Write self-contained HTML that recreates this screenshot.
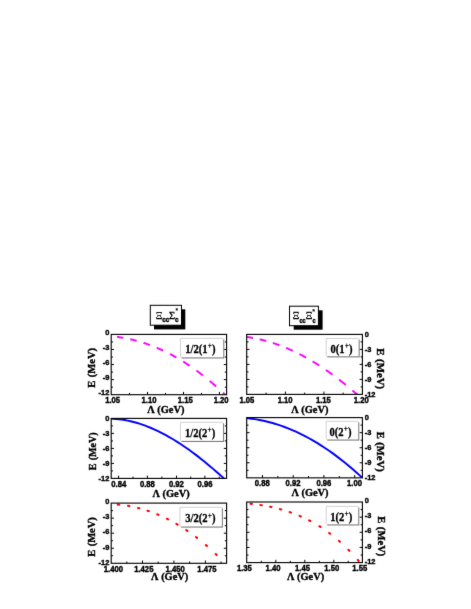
<!DOCTYPE html>
<html><head><meta charset="utf-8"><title>chart</title>
<style>html,body{margin:0;padding:0;background:#fff;}svg{display:block;position:absolute;left:0;top:0;will-change:transform}text{fill:#000}</style></head>
<body>
<svg width="471" height="609" viewBox="0 0 471 609">
<rect width="471" height="609" fill="#fff"/>
<defs><filter id="bl" x="0" y="0" width="100%" height="100%" filterUnits="userSpaceOnUse" color-interpolation-filters="sRGB"><feConvolveMatrix order="3" kernelMatrix="0.0064 0.0672 0.0064 0.0672 0.7056 0.0672 0.0064 0.0672 0.0064" divisor="1" edgeMode="duplicate" preserveAlpha="false"/></filter></defs>
<g filter="url(#bl)">
<rect width="471" height="609" fill="#fff"/>
<clipPath id="cTL"><rect x="111.2" y="334.4" width="115.39999999999999" height="60.30000000000001"/></clipPath>
<g clip-path="url(#cTL)"><path d="M117.00,336.88 L118.28,337.05 L119.56,337.23 L120.84,337.42 L122.12,337.63 L123.40,337.84 M130.25,339.21 L131.53,339.50 L132.81,339.81 L134.09,340.13 L135.37,340.45 L136.65,340.80 M143.50,342.83 L144.78,343.25 L146.06,343.68 L147.34,344.12 L148.62,344.57 L149.90,345.04 M156.75,347.75 L158.03,348.30 L159.31,348.85 L160.59,349.42 L161.87,350.01 L163.15,350.60 M170.00,354.00 L171.28,354.68 L172.56,355.36 L173.84,356.06 L175.12,356.78 L176.40,357.50 M183.25,361.60 L184.53,362.41 L185.81,363.23 L187.09,364.06 L188.37,364.91 L189.65,365.77 M196.50,370.58 L197.78,371.53 L199.06,372.48 L200.34,373.45 L201.62,374.43 L202.90,375.42 M209.75,380.96 L211.03,382.04 L212.31,383.13 L213.59,384.24 L214.87,385.35 L216.15,386.49 M223.00,392.77 L224.28,393.98 L225.56,395.21 L226.84,396.46 L228.12,397.71 L229.40,398.99" stroke="#ff00ff" stroke-width="1.95" fill="none"/></g>
<rect x="111.2" y="334.4" width="115.40" height="60.30" fill="none" stroke="#000" stroke-width="1.12"/>
<path d="M147.50,394.7 v-2.8 M183.50,394.7 v-2.8 M219.40,394.7 v-2.8 M129.50,394.7 v-1.8 M165.50,394.7 v-1.8 M201.50,394.7 v-1.8 M111.2,341.94 h1.8 M226.6,341.94 h-1.8 M111.2,349.47 h2.8 M226.6,349.47 h-2.8 M111.2,357.01 h1.8 M226.6,357.01 h-1.8 M111.2,364.55 h2.8 M226.6,364.55 h-2.8 M111.2,372.09 h1.8 M226.6,372.09 h-1.8 M111.2,379.62 h2.8 M226.6,379.62 h-2.8 M111.2,387.16 h1.8 M226.6,387.16 h-1.8" stroke="#000" stroke-width="1.0" fill="none"/>
<text transform="translate(112.65,403.10) scale(0.935,1)" text-anchor="middle" style="font-family:'Liberation Sans',sans-serif;font-size:8.25px;font-weight:bold;stroke:#000;stroke-width:0.4px;">1.05</text>
<text transform="translate(149.05,403.10) scale(0.935,1)" text-anchor="middle" style="font-family:'Liberation Sans',sans-serif;font-size:8.25px;font-weight:bold;stroke:#000;stroke-width:0.4px;">1.10</text>
<text transform="translate(185.30,403.10) scale(0.935,1)" text-anchor="middle" style="font-family:'Liberation Sans',sans-serif;font-size:8.25px;font-weight:bold;stroke:#000;stroke-width:0.4px;">1.15</text>
<text transform="translate(221.15,403.10) scale(0.935,1)" text-anchor="middle" style="font-family:'Liberation Sans',sans-serif;font-size:8.25px;font-weight:bold;stroke:#000;stroke-width:0.4px;">1.20</text>
<text transform="translate(165.80,412.70) scale(0.944,1)" text-anchor="middle" style="font-family:'Liberation Serif',serif;font-size:11px;font-weight:bold;stroke:#000;stroke-width:0.4px;">Λ (GeV)</text>
<text transform="translate(109.30,334.85) scale(0.92,1)" text-anchor="end" style="font-family:'Liberation Sans',sans-serif;font-size:8.1px;font-weight:bold;stroke:#000;stroke-width:0.4px;">0</text>
<text transform="translate(109.30,349.92) scale(0.92,1)" text-anchor="end" style="font-family:'Liberation Sans',sans-serif;font-size:8.1px;font-weight:bold;stroke:#000;stroke-width:0.4px;">-3</text>
<text transform="translate(109.30,365.00) scale(0.92,1)" text-anchor="end" style="font-family:'Liberation Sans',sans-serif;font-size:8.1px;font-weight:bold;stroke:#000;stroke-width:0.4px;">-6</text>
<text transform="translate(109.30,380.07) scale(0.92,1)" text-anchor="end" style="font-family:'Liberation Sans',sans-serif;font-size:8.1px;font-weight:bold;stroke:#000;stroke-width:0.4px;">-9</text>
<text transform="translate(109.30,395.15) scale(0.92,1)" text-anchor="end" style="font-family:'Liberation Sans',sans-serif;font-size:8.1px;font-weight:bold;stroke:#000;stroke-width:0.4px;">-12</text>
<text transform="translate(94.90,367.85) rotate(-90) scale(0.94,1)" text-anchor="middle" style="font-family:'Liberation Serif',serif;font-size:11.2px;font-weight:bold;stroke:#000;stroke-width:0.4px;word-spacing:0.9px;">E (MeV)</text>
<rect x="181.50" y="339.30" width="42.80" height="19.20" fill="#7c7c7c"/>
<rect x="180.50" y="338.30" width="42.75" height="19.10" fill="#fff"/>
<path d="M180.50,357.40 V338.30 H223.25" fill="none" stroke="#c6c6c6" stroke-width="0.8"/>
<text transform="translate(185.20,352.60) scale(0.885,1)" style="font-family:'Liberation Serif',serif;font-size:12px;font-weight:bold;stroke:#000;stroke-width:0.3px;">1/2(1<tspan dy="-4.7" dx="0.1" style="font-size:8.40px;font-weight:normal;stroke-width:0.3px">+</tspan><tspan dy="4.7" dx="0.1">)</tspan></text>
<clipPath id="cTR"><rect x="246.7" y="334.4" width="115.69999999999999" height="60.0"/></clipPath>
<g clip-path="url(#cTR)"><path d="M246.40,336.93 L247.72,337.10 L249.04,337.29 L250.36,337.50 L251.68,337.71 L253.00,337.94 M259.65,339.30 L260.97,339.61 L262.29,339.93 L263.61,340.26 L264.93,340.61 L266.25,340.97 M272.90,342.97 L274.22,343.40 L275.54,343.85 L276.86,344.31 L278.18,344.78 L279.50,345.27 M286.15,347.90 L287.47,348.46 L288.79,349.03 L290.11,349.62 L291.43,350.21 L292.75,350.82 M299.40,354.07 L300.72,354.75 L302.04,355.44 L303.36,356.15 L304.68,356.86 L306.00,357.59 M312.65,361.43 L313.97,362.23 L315.29,363.04 L316.61,363.86 L317.93,364.70 L319.25,365.54 M325.90,369.97 L327.22,370.88 L328.54,371.81 L329.86,372.74 L331.18,373.69 L332.50,374.65 M339.15,379.64 L340.47,380.67 L341.79,381.70 L343.11,382.75 L344.43,383.81 L345.75,384.87 M352.40,390.42 L353.72,391.55 L355.04,392.69 L356.36,393.85 L357.68,395.01 L359.00,396.19" stroke="#ff00ff" stroke-width="1.95" fill="none"/></g>
<rect x="246.7" y="334.4" width="115.70" height="60.00" fill="none" stroke="#000" stroke-width="1.12"/>
<path d="M285.40,394.4 v-2.8 M323.90,394.4 v-2.8 M266.10,394.4 v-1.8 M304.70,394.4 v-1.8 M343.10,394.4 v-1.8 M246.7,341.90 h1.8 M362.4,341.90 h-1.8 M246.7,349.40 h2.8 M362.4,349.40 h-2.8 M246.7,356.90 h1.8 M362.4,356.90 h-1.8 M246.7,364.40 h2.8 M362.4,364.40 h-2.8 M246.7,371.90 h1.8 M362.4,371.90 h-1.8 M246.7,379.40 h2.8 M362.4,379.40 h-2.8 M246.7,386.90 h1.8 M362.4,386.90 h-1.8" stroke="#000" stroke-width="1.0" fill="none"/>
<text transform="translate(246.90,402.80) scale(0.935,1)" text-anchor="middle" style="font-family:'Liberation Sans',sans-serif;font-size:8.25px;font-weight:bold;stroke:#000;stroke-width:0.4px;">1.05</text>
<text transform="translate(285.15,402.80) scale(0.935,1)" text-anchor="middle" style="font-family:'Liberation Sans',sans-serif;font-size:8.25px;font-weight:bold;stroke:#000;stroke-width:0.4px;">1.10</text>
<text transform="translate(323.40,402.80) scale(0.935,1)" text-anchor="middle" style="font-family:'Liberation Sans',sans-serif;font-size:8.25px;font-weight:bold;stroke:#000;stroke-width:0.4px;">1.15</text>
<text transform="translate(361.20,402.80) scale(0.935,1)" text-anchor="middle" style="font-family:'Liberation Sans',sans-serif;font-size:8.25px;font-weight:bold;stroke:#000;stroke-width:0.4px;">1.20</text>
<text transform="translate(309.85,412.60) scale(0.944,1)" text-anchor="middle" style="font-family:'Liberation Serif',serif;font-size:11px;font-weight:bold;stroke:#000;stroke-width:0.4px;">Λ (GeV)</text>
<text transform="translate(364.70,336.55) scale(0.92,1)" text-anchor="start" style="font-family:'Liberation Sans',sans-serif;font-size:8.1px;font-weight:bold;stroke:#000;stroke-width:0.4px;">0</text>
<text transform="translate(364.70,351.55) scale(0.92,1)" text-anchor="start" style="font-family:'Liberation Sans',sans-serif;font-size:8.1px;font-weight:bold;stroke:#000;stroke-width:0.4px;">-3</text>
<text transform="translate(364.70,366.55) scale(0.92,1)" text-anchor="start" style="font-family:'Liberation Sans',sans-serif;font-size:8.1px;font-weight:bold;stroke:#000;stroke-width:0.4px;">-6</text>
<text transform="translate(364.70,381.55) scale(0.92,1)" text-anchor="start" style="font-family:'Liberation Sans',sans-serif;font-size:8.1px;font-weight:bold;stroke:#000;stroke-width:0.4px;">-9</text>
<text transform="translate(364.70,396.55) scale(0.92,1)" text-anchor="start" style="font-family:'Liberation Sans',sans-serif;font-size:8.1px;font-weight:bold;stroke:#000;stroke-width:0.4px;">-12</text>
<text transform="translate(377.20,368.70) rotate(90) scale(0.97,1)" text-anchor="middle" style="font-family:'Liberation Serif',serif;font-size:11.2px;font-weight:bold;stroke:#000;stroke-width:0.4px;word-spacing:0.9px;">E (MeV)</text>
<rect x="327.20" y="339.50" width="32.50" height="17.90" fill="#7c7c7c"/>
<rect x="326.20" y="338.50" width="32.45" height="17.80" fill="#fff"/>
<path d="M326.20,356.30 V338.50 H358.65" fill="none" stroke="#c6c6c6" stroke-width="0.8"/>
<text transform="translate(330.40,352.60) scale(0.885,1)" style="font-family:'Liberation Serif',serif;font-size:12px;font-weight:bold;stroke:#000;stroke-width:0.3px;">0(1<tspan dy="-4.7" dx="0.1" style="font-size:8.40px;font-weight:normal;stroke-width:0.3px">+</tspan><tspan dy="4.7" dx="0.1">)</tspan></text>
<clipPath id="cML"><rect x="111.2" y="418.4" width="115.39999999999999" height="60.0"/></clipPath>
<g clip-path="url(#cML)"><path d="M110.00,418.70 L112.94,418.78 L115.88,418.96 L118.82,419.23 L121.75,419.60 L124.69,420.05 L127.63,420.60 L130.57,421.23 L133.51,421.95 L136.45,422.76 L139.38,423.64 L142.32,424.61 L145.26,425.66 L148.20,426.79 L151.14,428.00 L154.08,429.28 L157.02,430.64 L159.95,432.07 L162.89,433.57 L165.83,435.14 L168.77,436.78 L171.71,438.49 L174.65,440.26 L177.58,442.10 L180.52,444.00 L183.46,445.96 L186.40,447.99 L189.34,450.06 L192.28,452.20 L195.22,454.39 L198.15,456.64 L201.09,458.94 L204.03,461.29 L206.97,463.68 L209.91,466.13 L212.85,468.62 L215.78,471.16 L218.72,473.74 L221.66,476.37 L224.60,479.03" stroke="#0000ff" stroke-width="1.95" fill="none"/></g>
<rect x="111.2" y="418.4" width="115.40" height="60.00" fill="none" stroke="#000" stroke-width="1.12"/>
<path d="M118.60,478.4 v-2.8 M147.40,478.4 v-2.8 M176.50,478.4 v-2.8 M204.90,478.4 v-2.8 M133.00,478.4 v-1.8 M161.90,478.4 v-1.8 M190.70,478.4 v-1.8 M219.30,478.4 v-1.8 M111.2,425.90 h1.8 M226.6,425.90 h-1.8 M111.2,433.40 h2.8 M226.6,433.40 h-2.8 M111.2,440.90 h1.8 M226.6,440.90 h-1.8 M111.2,448.40 h2.8 M226.6,448.40 h-2.8 M111.2,455.90 h1.8 M226.6,455.90 h-1.8 M111.2,463.40 h2.8 M226.6,463.40 h-2.8 M111.2,470.90 h1.8 M226.6,470.90 h-1.8" stroke="#000" stroke-width="1.0" fill="none"/>
<text transform="translate(118.80,486.80) scale(0.935,1)" text-anchor="middle" style="font-family:'Liberation Sans',sans-serif;font-size:8.25px;font-weight:bold;stroke:#000;stroke-width:0.4px;">0.84</text>
<text transform="translate(147.40,486.80) scale(0.935,1)" text-anchor="middle" style="font-family:'Liberation Sans',sans-serif;font-size:8.25px;font-weight:bold;stroke:#000;stroke-width:0.4px;">0.88</text>
<text transform="translate(176.40,486.80) scale(0.935,1)" text-anchor="middle" style="font-family:'Liberation Sans',sans-serif;font-size:8.25px;font-weight:bold;stroke:#000;stroke-width:0.4px;">0.92</text>
<text transform="translate(205.00,486.80) scale(0.935,1)" text-anchor="middle" style="font-family:'Liberation Sans',sans-serif;font-size:8.25px;font-weight:bold;stroke:#000;stroke-width:0.4px;">0.96</text>
<text transform="translate(171.05,497.20) scale(0.944,1)" text-anchor="middle" style="font-family:'Liberation Serif',serif;font-size:11px;font-weight:bold;stroke:#000;stroke-width:0.4px;">Λ (GeV)</text>
<text transform="translate(109.30,421.05) scale(0.92,1)" text-anchor="end" style="font-family:'Liberation Sans',sans-serif;font-size:8.1px;font-weight:bold;stroke:#000;stroke-width:0.4px;">0</text>
<text transform="translate(109.30,436.05) scale(0.92,1)" text-anchor="end" style="font-family:'Liberation Sans',sans-serif;font-size:8.1px;font-weight:bold;stroke:#000;stroke-width:0.4px;">-3</text>
<text transform="translate(109.30,451.05) scale(0.92,1)" text-anchor="end" style="font-family:'Liberation Sans',sans-serif;font-size:8.1px;font-weight:bold;stroke:#000;stroke-width:0.4px;">-6</text>
<text transform="translate(109.30,466.05) scale(0.92,1)" text-anchor="end" style="font-family:'Liberation Sans',sans-serif;font-size:8.1px;font-weight:bold;stroke:#000;stroke-width:0.4px;">-9</text>
<text transform="translate(109.30,481.05) scale(0.92,1)" text-anchor="end" style="font-family:'Liberation Sans',sans-serif;font-size:8.1px;font-weight:bold;stroke:#000;stroke-width:0.4px;">-12</text>
<text transform="translate(95.80,451.30) rotate(-90) scale(0.9,1)" text-anchor="middle" style="font-family:'Liberation Serif',serif;font-size:11.2px;font-weight:bold;stroke:#000;stroke-width:0.4px;word-spacing:0.9px;">E (MeV)</text>
<rect x="181.50" y="423.30" width="42.60" height="18.70" fill="#7c7c7c"/>
<rect x="180.50" y="422.30" width="42.55" height="18.60" fill="#fff"/>
<path d="M180.50,440.90 V422.30 H223.05" fill="none" stroke="#c6c6c6" stroke-width="0.8"/>
<text transform="translate(184.90,436.50) scale(0.885,1)" style="font-family:'Liberation Serif',serif;font-size:12px;font-weight:bold;stroke:#000;stroke-width:0.3px;">1/2(2<tspan dy="-4.7" dx="0.1" style="font-size:8.40px;font-weight:normal;stroke-width:0.3px">+</tspan><tspan dy="4.7" dx="0.1">)</tspan></text>
<clipPath id="cMR"><rect x="246.7" y="417.6" width="115.69999999999999" height="60.25"/></clipPath>
<g clip-path="url(#cMR)"><path d="M245.60,418.10 L248.59,418.39 L251.59,418.74 L254.58,419.15 L257.58,419.64 L260.57,420.19 L263.57,420.80 L266.56,421.49 L269.56,422.24 L272.55,423.06 L275.55,423.94 L278.54,424.89 L281.54,425.90 L284.53,426.98 L287.53,428.13 L290.52,429.34 L293.52,430.62 L296.51,431.97 L299.51,433.38 L302.50,434.85 L305.50,436.39 L308.49,438.00 L311.49,439.67 L314.48,441.40 L317.48,443.20 L320.47,445.07 L323.47,446.99 L326.46,448.99 L329.46,451.05 L332.45,453.17 L335.45,455.36 L338.44,457.61 L341.44,459.92 L344.43,462.30 L347.43,464.74 L350.42,467.25 L353.42,469.82 L356.41,472.45 L359.41,475.15 L362.40,477.91" stroke="#0000ff" stroke-width="1.95" fill="none"/></g>
<rect x="246.7" y="417.6" width="115.70" height="60.25" fill="none" stroke="#000" stroke-width="1.12"/>
<path d="M262.50,477.85 v-2.8 M293.20,477.85 v-2.8 M323.90,477.85 v-2.8 M354.70,477.85 v-2.8 M277.80,477.85 v-1.8 M308.50,477.85 v-1.8 M339.30,477.85 v-1.8 M246.7,425.13 h1.8 M362.4,425.13 h-1.8 M246.7,432.66 h2.8 M362.4,432.66 h-2.8 M246.7,440.19 h1.8 M362.4,440.19 h-1.8 M246.7,447.73 h2.8 M362.4,447.73 h-2.8 M246.7,455.26 h1.8 M362.4,455.26 h-1.8 M246.7,462.79 h2.8 M362.4,462.79 h-2.8 M246.7,470.32 h1.8 M362.4,470.32 h-1.8" stroke="#000" stroke-width="1.0" fill="none"/>
<text transform="translate(262.30,486.25) scale(0.935,1)" text-anchor="middle" style="font-family:'Liberation Sans',sans-serif;font-size:8.25px;font-weight:bold;stroke:#000;stroke-width:0.4px;">0.88</text>
<text transform="translate(293.00,486.25) scale(0.935,1)" text-anchor="middle" style="font-family:'Liberation Sans',sans-serif;font-size:8.25px;font-weight:bold;stroke:#000;stroke-width:0.4px;">0.92</text>
<text transform="translate(323.90,486.25) scale(0.935,1)" text-anchor="middle" style="font-family:'Liberation Sans',sans-serif;font-size:8.25px;font-weight:bold;stroke:#000;stroke-width:0.4px;">0.96</text>
<text transform="translate(354.50,486.25) scale(0.935,1)" text-anchor="middle" style="font-family:'Liberation Sans',sans-serif;font-size:8.25px;font-weight:bold;stroke:#000;stroke-width:0.4px;">1.00</text>
<text transform="translate(310.00,495.60) scale(0.944,1)" text-anchor="middle" style="font-family:'Liberation Serif',serif;font-size:11px;font-weight:bold;stroke:#000;stroke-width:0.4px;">Λ (GeV)</text>
<text transform="translate(364.70,419.65) scale(0.92,1)" text-anchor="start" style="font-family:'Liberation Sans',sans-serif;font-size:8.1px;font-weight:bold;stroke:#000;stroke-width:0.4px;">0</text>
<text transform="translate(364.70,434.71) scale(0.92,1)" text-anchor="start" style="font-family:'Liberation Sans',sans-serif;font-size:8.1px;font-weight:bold;stroke:#000;stroke-width:0.4px;">-3</text>
<text transform="translate(364.70,449.77) scale(0.92,1)" text-anchor="start" style="font-family:'Liberation Sans',sans-serif;font-size:8.1px;font-weight:bold;stroke:#000;stroke-width:0.4px;">-6</text>
<text transform="translate(364.70,464.84) scale(0.92,1)" text-anchor="start" style="font-family:'Liberation Sans',sans-serif;font-size:8.1px;font-weight:bold;stroke:#000;stroke-width:0.4px;">-9</text>
<text transform="translate(364.70,479.90) scale(0.92,1)" text-anchor="start" style="font-family:'Liberation Sans',sans-serif;font-size:8.1px;font-weight:bold;stroke:#000;stroke-width:0.4px;">-12</text>
<text transform="translate(377.20,451.73) rotate(90) scale(0.95,1)" text-anchor="middle" style="font-family:'Liberation Serif',serif;font-size:11.2px;font-weight:bold;stroke:#000;stroke-width:0.4px;word-spacing:0.9px;">E (MeV)</text>
<rect x="327.20" y="422.30" width="32.10" height="18.30" fill="#7c7c7c"/>
<rect x="326.20" y="421.30" width="32.05" height="18.20" fill="#fff"/>
<path d="M326.20,439.50 V421.30 H358.25" fill="none" stroke="#c6c6c6" stroke-width="0.8"/>
<text transform="translate(329.50,435.80) scale(0.885,1)" style="font-family:'Liberation Serif',serif;font-size:12px;font-weight:bold;stroke:#000;stroke-width:0.3px;">0(2<tspan dy="-4.7" dx="0.1" style="font-size:8.40px;font-weight:normal;stroke-width:0.3px">+</tspan><tspan dy="4.7" dx="0.1">)</tspan></text>
<clipPath id="cBL"><rect x="111.2" y="503.1" width="115.39999999999999" height="60.19999999999993"/></clipPath>
<g clip-path="url(#cBL)"><path d="M117.80,504.59 L119.20,504.72 M128.01,505.86 L129.39,506.10 M138.02,507.94 L139.38,508.28 M147.54,510.69 L148.86,511.14 M157.25,514.31 L158.55,514.85 M166.88,518.70 L168.12,519.33 M176.40,523.86 L177.60,524.57 M186.22,530.04 L187.38,530.83 M195.95,537.04 L197.05,537.89 M205.87,545.10 L206.93,546.01 M215.69,554.00 L216.71,554.97" stroke="#ff0000" stroke-width="2.05" stroke-linecap="round" fill="none"/></g>
<rect x="111.2" y="503.1" width="115.40" height="60.20" fill="none" stroke="#000" stroke-width="1.12"/>
<path d="M142.50,563.3 v-2.8 M173.90,563.3 v-2.8 M205.40,563.3 v-2.8 M126.80,563.3 v-1.8 M158.20,563.3 v-1.8 M189.60,563.3 v-1.8 M221.10,563.3 v-1.8 M111.2,510.62 h1.8 M226.6,510.62 h-1.8 M111.2,518.15 h2.8 M226.6,518.15 h-2.8 M111.2,525.67 h1.8 M226.6,525.67 h-1.8 M111.2,533.20 h2.8 M226.6,533.20 h-2.8 M111.2,540.73 h1.8 M226.6,540.73 h-1.8 M111.2,548.25 h2.8 M226.6,548.25 h-2.8 M111.2,555.77 h1.8 M226.6,555.77 h-1.8" stroke="#000" stroke-width="1.0" fill="none"/>
<text transform="translate(113.40,571.70) scale(0.935,1)" text-anchor="middle" style="font-family:'Liberation Sans',sans-serif;font-size:8.25px;font-weight:bold;stroke:#000;stroke-width:0.4px;">1.400</text>
<text transform="translate(143.80,571.70) scale(0.935,1)" text-anchor="middle" style="font-family:'Liberation Sans',sans-serif;font-size:8.25px;font-weight:bold;stroke:#000;stroke-width:0.4px;">1.425</text>
<text transform="translate(175.25,571.70) scale(0.935,1)" text-anchor="middle" style="font-family:'Liberation Sans',sans-serif;font-size:8.25px;font-weight:bold;stroke:#000;stroke-width:0.4px;">1.450</text>
<text transform="translate(207.00,571.70) scale(0.935,1)" text-anchor="middle" style="font-family:'Liberation Sans',sans-serif;font-size:8.25px;font-weight:bold;stroke:#000;stroke-width:0.4px;">1.475</text>
<text transform="translate(169.65,580.30) scale(0.944,1)" text-anchor="middle" style="font-family:'Liberation Serif',serif;font-size:11px;font-weight:bold;stroke:#000;stroke-width:0.4px;">Λ (GeV)</text>
<text transform="translate(109.30,504.35) scale(0.92,1)" text-anchor="end" style="font-family:'Liberation Sans',sans-serif;font-size:8.1px;font-weight:bold;stroke:#000;stroke-width:0.4px;">0</text>
<text transform="translate(109.30,519.40) scale(0.92,1)" text-anchor="end" style="font-family:'Liberation Sans',sans-serif;font-size:8.1px;font-weight:bold;stroke:#000;stroke-width:0.4px;">-3</text>
<text transform="translate(109.30,534.45) scale(0.92,1)" text-anchor="end" style="font-family:'Liberation Sans',sans-serif;font-size:8.1px;font-weight:bold;stroke:#000;stroke-width:0.4px;">-6</text>
<text transform="translate(109.30,549.50) scale(0.92,1)" text-anchor="end" style="font-family:'Liberation Sans',sans-serif;font-size:8.1px;font-weight:bold;stroke:#000;stroke-width:0.4px;">-9</text>
<text transform="translate(109.30,564.55) scale(0.92,1)" text-anchor="end" style="font-family:'Liberation Sans',sans-serif;font-size:8.1px;font-weight:bold;stroke:#000;stroke-width:0.4px;">-12</text>
<text transform="translate(94.90,537.00) rotate(-90) scale(0.94,1)" text-anchor="middle" style="font-family:'Liberation Serif',serif;font-size:11.2px;font-weight:bold;stroke:#000;stroke-width:0.4px;word-spacing:0.9px;">E (MeV)</text>
<rect x="180.90" y="508.30" width="42.00" height="19.30" fill="#7c7c7c"/>
<rect x="179.90" y="507.30" width="41.95" height="19.20" fill="#fff"/>
<path d="M179.90,526.50 V507.30 H221.85" fill="none" stroke="#c6c6c6" stroke-width="0.8"/>
<text transform="translate(185.20,522.30) scale(0.885,1)" style="font-family:'Liberation Serif',serif;font-size:12px;font-weight:bold;stroke:#000;stroke-width:0.3px;">3/2(2<tspan dy="-4.7" dx="0.1" style="font-size:8.40px;font-weight:normal;stroke-width:0.3px">+</tspan><tspan dy="4.7" dx="0.1">)</tspan></text>
<clipPath id="cBR"><rect x="246.7" y="502.0" width="115.69999999999999" height="60.60000000000002"/></clipPath>
<g clip-path="url(#cBR)"><path d="M250.51,503.71 L251.89,503.88 M260.41,505.07 L261.79,505.29 M270.12,506.83 L271.48,507.12 M279.92,509.16 L281.28,509.52 M289.64,512.10 L290.96,512.56 M299.56,515.89 L300.84,516.44 M309.08,520.36 L310.32,521.01 M319.31,526.21 L320.49,526.96 M329.14,532.96 L330.26,533.80 M338.87,540.84 L339.93,541.76 M348.41,549.82 L349.39,550.81 M357.74,559.92 L358.66,560.98" stroke="#ff0000" stroke-width="2.05" stroke-linecap="round" fill="none"/></g>
<rect x="246.7" y="502.0" width="115.70" height="60.60" fill="none" stroke="#000" stroke-width="1.12"/>
<path d="M275.80,562.6 v-2.8 M304.80,562.6 v-2.8 M333.80,562.6 v-2.8 M261.30,562.6 v-1.8 M290.30,562.6 v-1.8 M319.30,562.6 v-1.8 M348.20,562.6 v-1.8 M246.7,509.57 h1.8 M362.4,509.57 h-1.8 M246.7,517.15 h2.8 M362.4,517.15 h-2.8 M246.7,524.73 h1.8 M362.4,524.73 h-1.8 M246.7,532.30 h2.8 M362.4,532.30 h-2.8 M246.7,539.88 h1.8 M362.4,539.88 h-1.8 M246.7,547.45 h2.8 M362.4,547.45 h-2.8 M246.7,555.03 h1.8 M362.4,555.03 h-1.8" stroke="#000" stroke-width="1.0" fill="none"/>
<text transform="translate(244.40,571.00) scale(0.935,1)" text-anchor="middle" style="font-family:'Liberation Sans',sans-serif;font-size:8.25px;font-weight:bold;stroke:#000;stroke-width:0.4px;">1.35</text>
<text transform="translate(273.10,571.00) scale(0.935,1)" text-anchor="middle" style="font-family:'Liberation Sans',sans-serif;font-size:8.25px;font-weight:bold;stroke:#000;stroke-width:0.4px;">1.40</text>
<text transform="translate(302.50,571.00) scale(0.935,1)" text-anchor="middle" style="font-family:'Liberation Sans',sans-serif;font-size:8.25px;font-weight:bold;stroke:#000;stroke-width:0.4px;">1.45</text>
<text transform="translate(331.70,571.00) scale(0.935,1)" text-anchor="middle" style="font-family:'Liberation Sans',sans-serif;font-size:8.25px;font-weight:bold;stroke:#000;stroke-width:0.4px;">1.50</text>
<text transform="translate(359.80,571.00) scale(0.935,1)" text-anchor="middle" style="font-family:'Liberation Sans',sans-serif;font-size:8.25px;font-weight:bold;stroke:#000;stroke-width:0.4px;">1.55</text>
<text transform="translate(305.55,579.50) scale(0.944,1)" text-anchor="middle" style="font-family:'Liberation Serif',serif;font-size:11px;font-weight:bold;stroke:#000;stroke-width:0.4px;">Λ (GeV)</text>
<text transform="translate(364.70,503.15) scale(0.92,1)" text-anchor="start" style="font-family:'Liberation Sans',sans-serif;font-size:8.1px;font-weight:bold;stroke:#000;stroke-width:0.4px;">0</text>
<text transform="translate(364.70,518.30) scale(0.92,1)" text-anchor="start" style="font-family:'Liberation Sans',sans-serif;font-size:8.1px;font-weight:bold;stroke:#000;stroke-width:0.4px;">-3</text>
<text transform="translate(364.70,533.45) scale(0.92,1)" text-anchor="start" style="font-family:'Liberation Sans',sans-serif;font-size:8.1px;font-weight:bold;stroke:#000;stroke-width:0.4px;">-6</text>
<text transform="translate(364.70,548.60) scale(0.92,1)" text-anchor="start" style="font-family:'Liberation Sans',sans-serif;font-size:8.1px;font-weight:bold;stroke:#000;stroke-width:0.4px;">-9</text>
<text transform="translate(364.70,563.75) scale(0.92,1)" text-anchor="start" style="font-family:'Liberation Sans',sans-serif;font-size:8.1px;font-weight:bold;stroke:#000;stroke-width:0.4px;">-12</text>
<text transform="translate(378.20,536.30) rotate(90) scale(0.95,1)" text-anchor="middle" style="font-family:'Liberation Serif',serif;font-size:11.2px;font-weight:bold;stroke:#000;stroke-width:0.4px;word-spacing:0.9px;">E (MeV)</text>
<rect x="327.20" y="507.40" width="32.10" height="18.10" fill="#7c7c7c"/>
<rect x="326.20" y="506.40" width="32.05" height="18.00" fill="#fff"/>
<path d="M326.20,524.40 V506.40 H358.25" fill="none" stroke="#c6c6c6" stroke-width="0.8"/>
<text transform="translate(330.20,520.90) scale(0.885,1)" style="font-family:'Liberation Serif',serif;font-size:12px;font-weight:bold;stroke:#000;stroke-width:0.3px;">1(2<tspan dy="-4.7" dx="0.1" style="font-size:8.40px;font-weight:normal;stroke-width:0.3px">+</tspan><tspan dy="4.7" dx="0.1">)</tspan></text>
<rect x="154.0" y="309.3" width="31.30" height="20.10" fill="#000"/>
<rect x="150.3" y="305.3" width="31.20" height="19.90" fill="#fff" stroke="#000" stroke-width="1"/>
<text transform="translate(155.80,318.70) scale(1.0,1)" style="font-family:'Liberation Serif',serif;font-size:10.6px;font-weight:normal;stroke:#000;stroke-width:0.25px;">Ξ</text>
<text transform="translate(162.20,322.10) scale(1.0,1)" style="font-family:'Liberation Sans',sans-serif;font-size:6.4px;font-weight:bold;stroke:#000;stroke-width:0.4px;">cc</text>
<text transform="translate(169.00,318.70) scale(1.0,1)" style="font-family:'Liberation Serif',serif;font-size:10.6px;font-weight:normal;stroke:#000;stroke-width:0.3px;">Σ</text>
<text transform="translate(175.00,322.10) scale(1.0,1)" style="font-family:'Liberation Sans',sans-serif;font-size:6.4px;font-weight:bold;stroke:#000;stroke-width:0.4px;">c</text>
<text transform="translate(175.40,313.40) scale(1.0,1)" style="font-family:'Liberation Sans',sans-serif;font-size:6.6px;font-weight:bold;stroke:#000;stroke-width:0.1px;">*</text>
<rect x="293.7" y="310.3" width="28.90" height="19.40" fill="#000"/>
<rect x="289.5" y="306.2" width="28.90" height="19.50" fill="#fff" stroke="#000" stroke-width="1"/>
<text transform="translate(292.80,318.70) scale(1.0,1)" style="font-family:'Liberation Serif',serif;font-size:10.2px;font-weight:normal;stroke:#000;stroke-width:0.35px;">Ξ</text>
<text transform="translate(299.50,322.50) scale(0.88,1)" style="font-family:'Liberation Sans',sans-serif;font-size:6.3px;font-weight:bold;stroke:#000;stroke-width:0.4px;">cc</text>
<text transform="translate(305.80,318.70) scale(1.0,1)" style="font-family:'Liberation Serif',serif;font-size:10.2px;font-weight:normal;stroke:#000;stroke-width:0.35px;">Ξ</text>
<text transform="translate(312.40,322.50) scale(0.88,1)" style="font-family:'Liberation Sans',sans-serif;font-size:6.3px;font-weight:bold;stroke:#000;stroke-width:0.4px;">c</text>
<text transform="translate(312.20,313.90) scale(1.0,1)" style="font-family:'Liberation Sans',sans-serif;font-size:7.0px;font-weight:bold;stroke:#000;stroke-width:0.1px;">*</text>
</g>
</svg>
</body></html>
